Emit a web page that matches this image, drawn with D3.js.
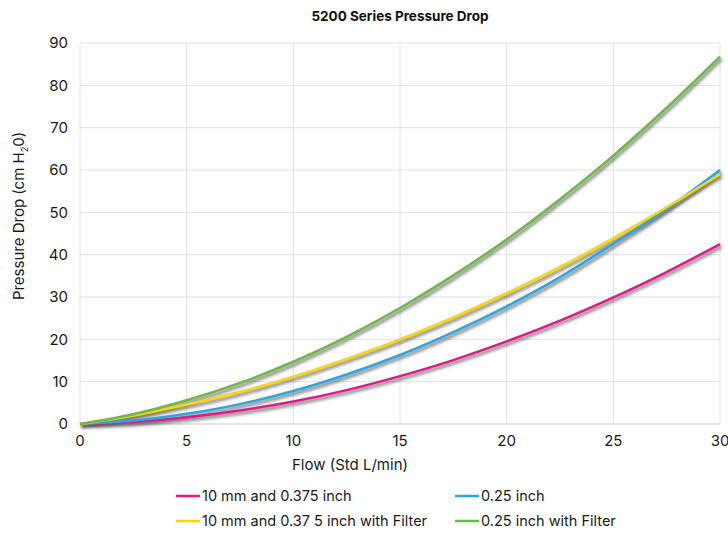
<!DOCTYPE html>
<html>
  <head>
    <meta charset="UTF-8">
    <title>5200 Series Pressure Drop</title>
    <script src="https://d3js.org/d3.v7.min.js"></script>
    <style>
      body { margin: 0; background: #fff; }
    </style>
  </head>
  <body>
    <svg width="728" height="533"></svg>
    <script>
      const flow = [0, 2.5, 5, 7.5, 10, 12.5, 15, 17.5, 20, 22.5, 25, 27.5, 30];
      const pink = [0, 0.5, 1.6, 3.2, 5.3, 8.0, 11.3, 15.1, 19.5, 24.4, 29.9, 35.9, 42.5];
      const blue = [0, 0.8, 2.4, 4.7, 7.8, 11.7, 16.3, 21.7, 27.8, 34.7, 42.6, 50.8, 60.0];
      const yellow = [0, 2.0, 4.6, 7.6, 11.2, 15.4, 20.0, 25.2, 30.9, 37.1, 43.9, 51.2, 59.0];
      const green = [0, 2.3, 5.6, 9.7, 14.7, 20.6, 27.4, 35.1, 43.6, 53.1, 63.4, 74.7, 86.8];
      const seriesNames = ["10 mm and 0.375 inch", "0.25 inch", "10 mm and 0.37 5 inch with Filter", "0.25 inch with Filter"];
      const seriesColors = ["#e5178a", "#2aa7df", "#fcd800", "#6cb944"];
      const xTicks = [0, 5, 10, 15, 20, 25, 30];
      const yTicks = [0, 10, 20, 30, 40, 50, 60, 70, 80, 90];

      const series = [pink, blue, yellow, green];
      const font = "Inter, 'Liberation Sans', sans-serif";

      const svg = d3.select("svg");
      const x = d3.scaleLinear().domain([0, 30]).range([80, 720]);
      const y = d3.scaleLinear().domain([0, 90]).range([424, 43]);

      const defs = svg.append("defs");
      defs.append("filter").attr("id", "shadow")
        .attr("x", "-5%").attr("y", "-5%").attr("width", "110%").attr("height", "110%")
        .append("feGaussianBlur").attr("stdDeviation", 1.5);

      // grid
      svg.append("g").selectAll("line").data(yTicks).join("line")
        .attr("x1", 80).attr("x2", 720)
        .attr("y1", d => y(d)).attr("y2", d => y(d))
        .attr("stroke", d => d === 0 ? "#c8c8c8" : "#e0e0e0").attr("stroke-width", 1);
      svg.append("g").selectAll("line").data(xTicks).join("line")
        .attr("x1", d => x(d)).attr("x2", d => x(d))
        .attr("y1", 43).attr("y2", 424)
        .attr("stroke", "#e0e0e0").attr("stroke-width", 1);

      const line = d3.line().x((d, i) => x(flow[i])).y(d => y(d)).curve(d3.curveMonotoneX);

      // shadows
      svg.append("g").attr("filter", "url(#shadow)").selectAll("path").data(series).join("path")
        .attr("d", line).attr("transform", "translate(1.5,2.5)")
        .attr("fill", "none").attr("stroke", "#444").attr("stroke-opacity", 0.6).attr("stroke-width", 3.5);

      svg.append("g").selectAll("path").data(series).join("path")
        .attr("d", line)
        .attr("fill", "none").attr("stroke", (d, i) => seriesColors[i]).attr("stroke-width", 2.5);

      // tick labels
      svg.append("g").selectAll("text").data(yTicks).join("text")
        .attr("x", 68).attr("y", d => y(d)).attr("dy", "0.35em")
        .attr("text-anchor", "end")
        .style("font", `15px ${font}`).attr("fill", "#1a1a1a")
        .text(d => d);
      svg.append("g").selectAll("text").data(xTicks).join("text")
        .attr("x", d => x(d)).attr("y", 446)
        .attr("text-anchor", "middle")
        .style("font", `15px ${font}`).attr("fill", "#1a1a1a")
        .text(d => d);

      // titles
      svg.append("text").attr("x", 400).attr("y", 21).attr("text-anchor", "middle")
        .style("font", `bold 13.5px ${font}`).attr("fill", "#111")
        .text("5200 Series Pressure Drop");
      svg.append("text").attr("x", 350).attr("y", 470).attr("text-anchor", "middle")
        .style("font", `15px ${font}`).attr("fill", "#1a1a1a")
        .text("Flow (Std L/min)");
      const yl = svg.append("text")
        .attr("transform", "translate(24,216) rotate(-90)")
        .attr("text-anchor", "middle")
        .style("font", `15px ${font}`).attr("fill", "#1a1a1a");
      yl.append("tspan").text("Pressure Drop (cm H");
      yl.append("tspan").attr("dy", 4).style("font-size", "9px").text("2");
      yl.append("tspan").attr("dy", -4).text("0)");

      // legend
      const legendPos = [[176, 496], [455, 496], [176, 521], [455, 521]];
      const lg = svg.append("g").selectAll("g").data(seriesNames).join("g")
        .attr("transform", (d, i) => `translate(${legendPos[i][0]},${legendPos[i][1]})`);
      lg.append("line").attr("x1", 0).attr("x2", 24).attr("y1", 0).attr("y2", 0)
        .attr("stroke", (d, i) => seriesColors[i]).attr("stroke-width", 2.5);
      lg.append("text").attr("x", 26).attr("dy", "0.35em")
        .style("font", `14.5px ${font}`).attr("fill", "#1a1a1a")
        .text(d => d);
    </script>
  </body>
</html>
